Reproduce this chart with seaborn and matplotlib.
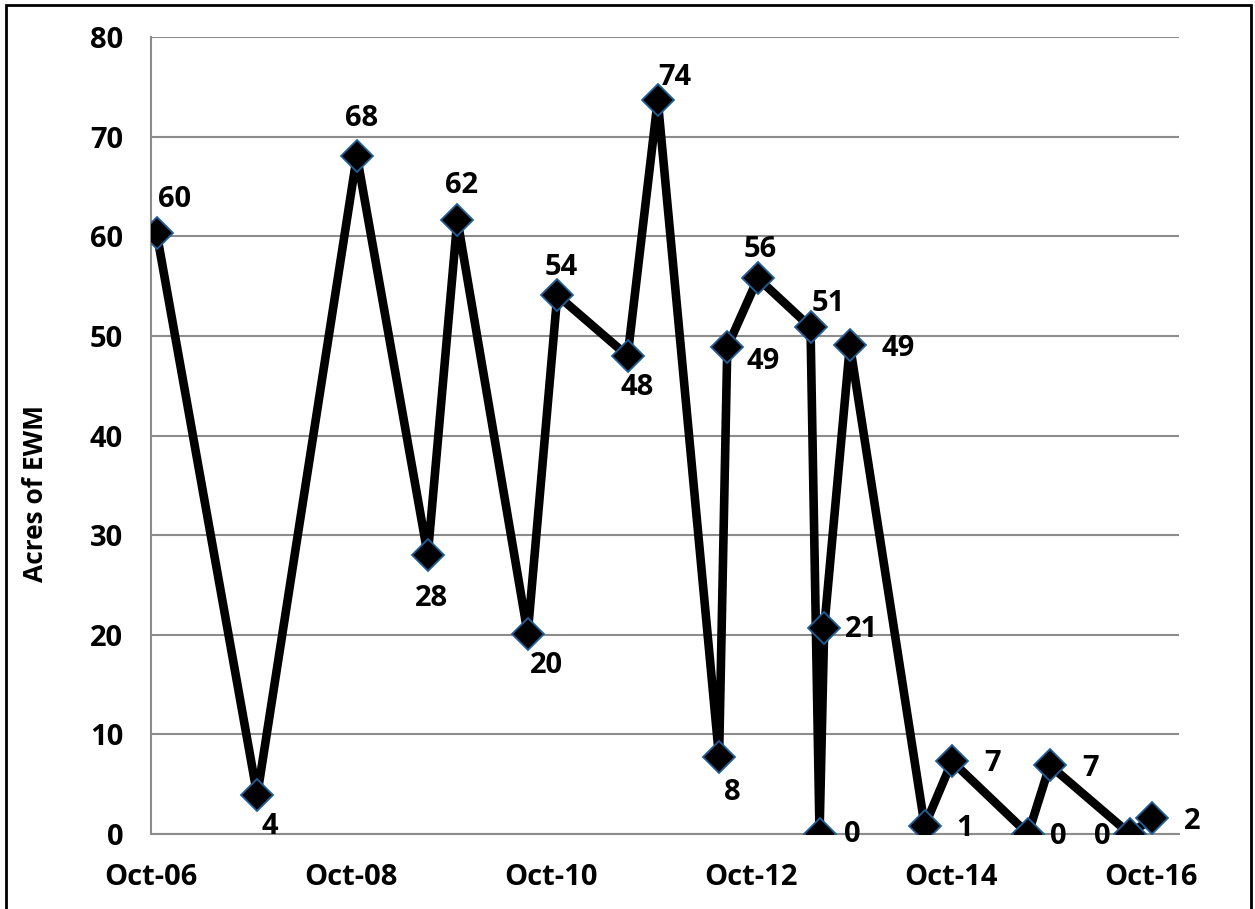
import matplotlib
matplotlib.use("Agg")
import matplotlib.pyplot as plt
import matplotlib.dates as mdates
from matplotlib.patches import Rectangle
import pandas as pd
import seaborn as sns

# Survey dates and acres of Eurasian watermilfoil (EWM) found
survey_dates = [
    "2006-10-22", "2007-10-24", "2008-10-22", "2009-07-08", "2009-10-24",
    "2010-07-08", "2010-10-24", "2011-07-08", "2011-10-26", "2012-06-06",
    "2012-07-06", "2012-10-26", "2013-05-06", "2013-06-08", "2013-06-25",
    "2013-09-27", "2014-06-27", "2014-10-05", "2015-07-10", "2015-09-27",
    "2016-07-16", "2016-10-05",
]
acres = [
    60.3, 3.9, 68.1, 28.0, 61.7, 20.1, 54.1, 48.0, 73.7, 7.7, 48.9,
    55.8, 50.9, 0.0, 20.7, 49.1, 0.8, 7.3, 0.0, 6.9, 0.0, 1.6,
]
tick_dates = ["2006-10-01", "2008-10-01", "2010-10-01", "2012-10-01",
              "2014-10-01", "2016-10-01"]
y_ticks = [0, 10, 20, 30, 40, 50, 60, 70, 80]

# Where each value label sits relative to its marker (pixels)
label_offsets = [
    (18, 34), (13, -31), (5, 37), (4, -43), (4, 34), (19, -32), (4, 28),
    (9, -32), (17, 23), (13, -35), (36, -14), (2, 29), (18, 24), (33, 0),
    (37, -2), (48, -3), (40, -2), (40, -2), (30, -3), (41, -3), (-28, -3),
    (40, -3),
]

df = pd.DataFrame({"date": pd.to_datetime(survey_dates), "acres": acres})

sns.set_theme(style="white")
plt.rcParams["font.family"] = ["Open Sans", "DejaVu Sans"]
plt.rcParams["font.weight"] = "bold"

W, H = 1255, 909
fig = plt.figure(figsize=(W / 100, H / 100), dpi=100)
ax = fig.add_axes([151 / W, 75 / H, (1179 - 151) / W, (834 - 37.3) / H])

grid_color = "#8c8c8c"

sns.lineplot(
    data=df, x="date", y="acres", ax=ax, color="black", linewidth=6.2,
    marker="D", markersize=16, markerfacecolor="black",
    markeredgecolor="#1f5f9a", markeredgewidth=1.3, zorder=3,
)

for d, v, (dx, dy) in zip(df["date"], df["acres"], label_offsets):
    ax.annotate(f"{v:.0f}", xy=(d, v), xytext=(dx, dy),
                textcoords="offset pixels", ha="center", va="center",
                fontsize=21, fontweight="bold", color="black", zorder=4)

ax.set_xlim(pd.Timestamp("2006-10-01"), pd.Timestamp("2017-01-11"))
ax.set_ylim(0, 80)
ax.set_yticks(y_ticks)
ax.set_xticks(pd.to_datetime(tick_dates))
ax.xaxis.set_major_formatter(mdates.DateFormatter("%b-%y"))

ax.grid(axis="y", color=grid_color, linewidth=1.5)
ax.grid(axis="x", visible=False)
for side in ("top", "right"):
    ax.spines[side].set_visible(False)
for side in ("left", "bottom"):
    ax.spines[side].set_color(grid_color)
    ax.spines[side].set_linewidth(1.5)

ax.tick_params(axis="both", which="major", direction="out", length=7,
               width=1.1, color=grid_color, labelsize=21, labelcolor="black")
ax.tick_params(axis="y", pad=13)
ax.tick_params(axis="x", pad=14)
for lab in ax.get_xticklabels() + ax.get_yticklabels():
    lab.set_fontweight("bold")

ax.set_xlabel("")
ax.set_ylabel("Acres of EWM", fontsize=19, fontweight="bold", color="black")
ax.yaxis.label.set_va("center")
ax.yaxis.set_label_coords((36 - 151) / (1179 - 151), (834 - 493) / (834 - 37.3))

# Thin black frame around the whole chart area
fig.patches.append(Rectangle((6 / W, -0.02), (1251 - 6) / W, 1.02 - 5 / H,
                             transform=fig.transFigure, fill=False,
                             edgecolor="black", linewidth=2))

fig.savefig("out.png", dpi=100)
